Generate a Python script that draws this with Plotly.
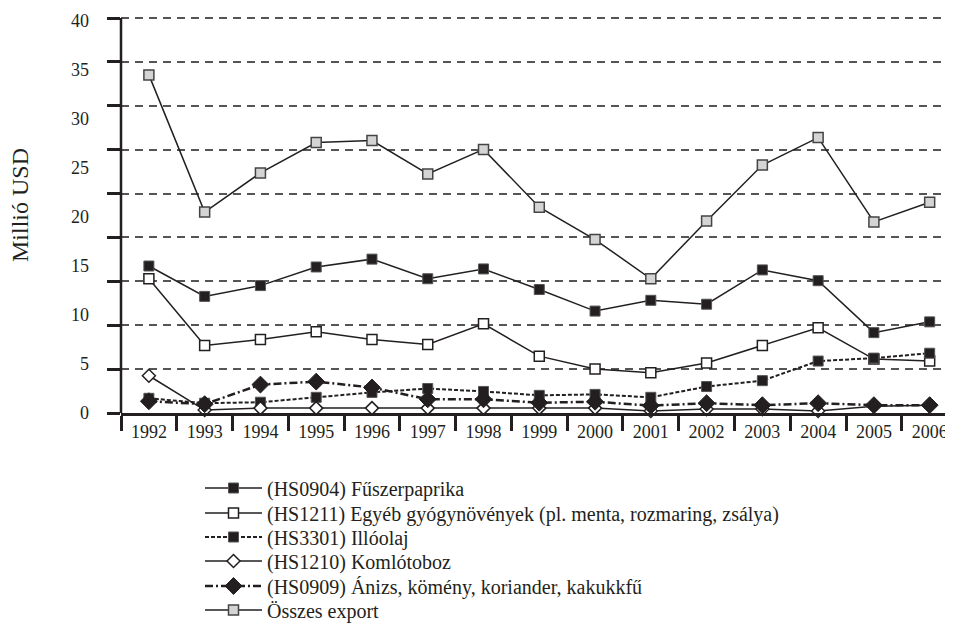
import plotly.graph_objects as go

years = ["1992", "1993", "1994", "1995", "1996", "1997", "1998", "1999",
         "2000", "2001", "2002", "2003", "2004", "2005", "2006"]

fuszerpaprika = [15.0, 11.9, 13.0, 14.9, 15.7, 13.7, 14.7, 12.6, 10.4, 11.5, 11.1, 14.6, 13.5, 8.2, 9.3]
gyogynovenyek = [13.7, 6.9, 7.5, 8.3, 7.5, 7.0, 9.1, 5.8, 4.5, 4.1, 5.1, 6.9, 8.7, 5.5, 5.3]
illoolaj = [1.5, 1.0, 1.1, 1.6, 2.1, 2.5, 2.2, 1.8, 1.9, 1.6, 2.7, 3.3, 5.3, 5.6, 6.1]
komlotoboz = [3.8, 0.3, 0.5, 0.5, 0.5, 0.5, 0.5, 0.5, 0.5, 0.2, 0.4, 0.4, 0.2, 0.7, 0.8]
anizs = [1.2, 0.9, 2.9, 3.2, 2.6, 1.4, 1.4, 1.05, 1.15, 0.75, 1.0, 0.8, 1.0, 0.8, 0.8]
osszes = [34.5, 20.5, 24.5, 27.6, 27.8, 24.4, 26.9, 21.0, 17.7, 13.7, 19.6, 25.3, 28.1, 19.5, 21.5]

names = [
    "(HS0904) Fűszerpaprika",
    "(HS1211) Egyéb gyógynövények (pl. menta, rozmaring, zsálya)",
    "(HS3301) Illóolaj",
    "(HS1210) Komlótoboz",
    "(HS0909) Ánizs, kömény, koriander, kakukkfű",
    "Összes export",
]
y_ticks = [0, 5, 10, 15, 20, 25, 30, 35, 40]

INK = "#231f20"
TXT = "#231f20"
FONT = "Liberation Serif"

# page body has an 8px margin: the figure is shifted by (8, 8)
OFF = 8
W, H = 953 - OFF, 630 - OFF
PLOT_LEFT, PLOT_TOP, PLOT_BOTTOM = 121, 15, 413
GRID_TOP = 18            # pixel row of the highest dashed gridline
PX_PER_UNIT = 9.8        # pixels per million USD on the labelled scale
L, T, B = PLOT_LEFT - OFF, PLOT_TOP - OFF, (H + OFF) - PLOT_BOTTOM
PW = W - L
PH = PLOT_BOTTOM - PLOT_TOP
Y1_MAX = PH / PX_PER_UNIT
Y2_MAX = 9 * PH / (PLOT_BOTTOM - GRID_TOP)

series = [fuszerpaprika, gyogynovenyek, illoolaj, komlotoboz, anizs, osszes]
lines = [
    dict(color=INK, width=1.5),
    dict(color=INK, width=1.5),
    dict(color=INK, width=2, dash="4px,2px"),
    dict(color=INK, width=1.5),
    dict(color=INK, width=2.5, dash="8px,3px,2px,3px"),
    dict(color=INK, width=1.5),
]
markers = [
    dict(symbol="square", size=10, color=INK, line=dict(color="#555", width=1)),
    dict(symbol="square", size=10, color="white", line=dict(color=INK, width=1.5)),
    dict(symbol="square", size=10, color=INK, line=dict(color="#555", width=1)),
    dict(symbol="diamond", size=10, color="white", line=dict(color=INK, width=1.5)),
    dict(symbol="diamond", size=13, color=INK, line=dict(color=INK, width=1)),
    dict(symbol="square", size=10, color="#d4d4d4", line=dict(color="#444", width=1.5)),
]
legend_ids = ["legend", "legend2", "legend3", "legend4", "legend5", "legend6"]
legend_rows_px = [488, 513, 537, 561, 586, 610]

fig = go.Figure()
for vals, nm, ln, mk, lg in zip(series, names, lines, markers, legend_ids):
    fig.add_trace(go.Scatter(x=years, y=vals, name=nm, mode="lines+markers",
                             line=ln, marker=mk, legend=lg, cliponaxis=False))

fig.add_trace(go.Scatter(x=years[:1], y=[0], yaxis="y2", mode="markers",
                         marker=dict(opacity=0), showlegend=False, hoverinfo="skip"))

legend_layout = {}
for lg, row in zip(legend_ids, legend_rows_px):
    legend_layout[lg] = dict(
        x=(200 - PLOT_LEFT) / PW, y=(PLOT_BOTTOM - row) / PH,
        xanchor="left", yanchor="middle",
        font=dict(family=FONT, size=20, color=TXT),
        bgcolor="rgba(0,0,0,0)", itemwidth=57, borderwidth=0,
    )

fig.update_layout(
    width=W, height=H,
    margin=dict(l=L, r=0, t=T, b=B, autoexpand=False),
    paper_bgcolor="white", plot_bgcolor="white",
    font=dict(family=FONT, size=18, color=TXT),
    xaxis=dict(
        type="category", range=[-0.5, -0.5 + PW / 55.77],
        tickson="boundaries", ticks="outside", ticklen=15, tickwidth=2.5, tickcolor=INK,
        showline=True, linewidth=2.5, linecolor=INK, showgrid=False,
        tickfont=dict(family=FONT, size=18, color=TXT),
        ticklabelstandoff=1, ticklabeloverflow="allow",
    ),
    yaxis=dict(
        range=[0, Y1_MAX], tickvals=y_ticks, ticks="", showgrid=False, zeroline=False,
        showline=False,
        tickfont=dict(family=FONT, size=18, color=TXT),
        ticklabelstandoff=31,
    ),
    yaxis2=dict(
        overlaying="y", side="left", range=[0, Y2_MAX], dtick=1,
        showgrid=True, gridcolor="#555", gridwidth=2, griddash="8px,6px",
        zeroline=False, showticklabels=False,
        ticks="outside", ticklen=13, tickwidth=2.5, tickcolor=INK,
    ),
    shapes=[dict(type="line", xref="paper", yref="y2", x0=0, x1=0, y0=0, y1=9,
                 line=dict(color=INK, width=2.5))],
    showlegend=True,
    annotations=[dict(
        text="Millió USD", textangle=-90, showarrow=False,
        xref="paper", yref="paper", x=(20 - PLOT_LEFT) / PW, y=(PLOT_BOTTOM - 205) / PH,
        xanchor="center", yanchor="middle",
        font=dict(family=FONT, size=24, color=TXT),
    )],
    **legend_layout,
)

fig.write_html("out.html")
